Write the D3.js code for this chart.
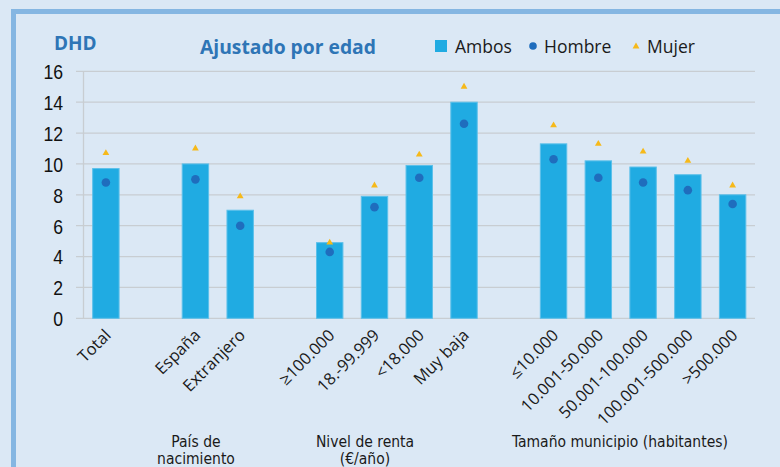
<!DOCTYPE html>
<html>
<head>
<meta charset="utf-8">
<script src="https://cdn.jsdelivr.net/npm/d3@7"></script>
<style>
  html, body { margin: 0; padding: 0; background: #dbe8f5; }
  svg { display: block; }
</style>
</head>
<body>
<svg id="chart" width="780" height="467"></svg>
<script>
// ---- Data ----
const categories = ["Total", "", "España", "Extranjero", "", "≥100.000", "18.-99.999", "<18.000", "Muy baja", "", "≤10.000", "10.001-50.000", "50.001-100.000", "100.001-500.000", ">500.000"];
const ambos  = [9.7, null, 10.0, 7.0, null, 4.9, 7.9, 9.9, 14.0, null, 11.3, 10.2, 9.8, 9.3, 8.0];
const hombre = [8.8, null, 9.0, 6.0, null, 4.3, 7.2, 9.1, 12.6, null, 10.3, 9.1, 8.8, 8.3, 7.4];
const mujer  = [10.7, null, 11.0, 7.9, null, 4.9, 8.6, 10.6, 15.0, null, 12.5, 11.3, 10.8, 10.2, 8.6];
const yTicks = [0, 2, 4, 6, 8, 10, 12, 14, 16];
const seriesNames = ["Ambos", "Hombre", "Mujer"];
const groupLabels = [
  { lines: ["País de", "nacimiento"], x: 196 },
  { lines: ["Nivel de renta", "(€/año)"], x: 365 },
  { lines: ["Tamaño municipio (habitantes)"], x: 620 }
];

// ---- Setup ----
const svg = d3.select("#chart");
const W = 780, H = 467;
const C = {
  bg: "#dbe8f5", border: "#85b6e2", bar: "#20abe2", barStroke: "#5cc0ea",
  dot: "#1f6dbd", tri: "#f6b91a", grid: "#c8cdd2", title: "#2e75b6", text: "#1a1a1a"
};

svg.append("rect").attr("x", 0).attr("y", 0).attr("width", W).attr("height", H).attr("fill", C.bg);
// border (top & left visible)
svg.append("rect").attr("x", 11).attr("y", 9).attr("width", W - 11).attr("height", 5).attr("fill", C.border);
svg.append("rect").attr("x", 11).attr("y", 9).attr("width", 5).attr("height", H - 9).attr("fill", C.border);

const plot = { left: 83.5, right: 755, top: 71.3, bottom: 318.3 };
const idx = categories.map((d, i) => i);
const x = d3.scaleBand().domain(idx).range([plot.left, plot.right]).paddingInner(0.41).paddingOuter(0.205);
const y = d3.scaleLinear().domain([0, 16]).range([plot.bottom, plot.top]);

// gridlines
svg.append("g").selectAll("line").data(yTicks).join("line")
  .attr("x1", 76).attr("x2", plot.right)
  .attr("y1", d => y(d)).attr("y2", d => y(d))
  .attr("stroke", C.grid).attr("stroke-width", 1.3);

// y axis line
svg.append("line").attr("x1", plot.left).attr("x2", plot.left)
  .attr("y1", y(16)).attr("y2", y(0)).attr("stroke", C.grid).attr("stroke-width", 1.3);

// y tick labels
const yAxis = d3.axisLeft(y).tickValues(yTicks).tickSize(0).tickPadding(0).tickFormat(d3.format("d"));
const gy = svg.append("g").attr("transform", `translate(63,0)`).call(yAxis);
gy.select(".domain").remove();
gy.selectAll("text")
  .attr("font-family", "'Liberation Sans', Arial, sans-serif")
  .attr("font-size", 20.5).attr("fill", "#111").attr("dy", "0.36em")
  .attr("transform", "scale(0.86,1)");

// bars
const bi = idx.filter(i => ambos[i] != null);
svg.append("g").selectAll("rect").data(bi).join("rect")
  .attr("x", i => x(i)).attr("width", x.bandwidth())
  .attr("y", i => y(ambos[i])).attr("height", i => y(0) - y(ambos[i]))
  .attr("fill", C.bar).attr("stroke", C.barStroke).attr("stroke-width", 1);

// hombre dots
svg.append("g").selectAll("circle").data(bi).join("circle")
  .attr("cx", i => x(i) + x.bandwidth() / 2).attr("cy", i => y(hombre[i]))
  .attr("r", 4.3).attr("fill", C.dot);

// mujer triangles
const tri = d3.symbol().type(d3.symbolTriangle).size(20);
svg.append("g").selectAll("path").data(bi).join("path")
  .attr("d", tri)
  .attr("transform", i => `translate(${x(i) + x.bandwidth() / 2},${y(mujer[i])})`)
  .attr("fill", C.tri);

// x labels
svg.append("g").selectAll("text").data(bi).join("text")
  .attr("transform", i => `translate(${x(i) + x.bandwidth() / 2 + 6},${plot.bottom + 18}) rotate(-45)`)
  .attr("text-anchor", "end")
  .attr("font-family", "'Open Sans', 'Noto Sans', sans-serif")
  .attr("font-size", 16.5).attr("fill", C.text)
  .text(i => categories[i]);

// group labels
const gl = svg.append("g").selectAll("text").data(groupLabels).join("text")
  .attr("x", d => d.x).attr("y", 446.5)
  .attr("text-anchor", "middle")
  .attr("font-family", "'DejaVu Sans Condensed', 'DejaVu Sans', sans-serif")
  .attr("font-size", 15.5).attr("fill", C.text);
gl.selectAll("tspan").data(d => d.lines.map(l => ({ l, x: d.x }))).join("tspan")
  .attr("x", d => d.x).attr("dy", (d, i) => i === 0 ? 0 : 17).text(d => d.l);

// titles
svg.append("text").attr("x", 54).attr("y", 50)
  .attr("font-family", "'Open Sans', sans-serif").attr("font-weight", 700)
  .attr("font-size", 19).attr("fill", C.title).text("DHD");
svg.append("text").attr("x", 200).attr("y", 54)
  .attr("font-family", "'Open Sans', sans-serif").attr("font-weight", 700)
  .attr("font-size", 19.3).attr("fill", C.title).text("Ajustado por edad");

// legend
const lg = svg.append("g").attr("font-family", "'Open Sans', sans-serif").attr("font-size", 17.5).attr("fill", C.text);
const legendItems = [
  { name: seriesNames[0], sx: 441, tx: 455 },
  { name: seriesNames[1], sx: 533, tx: 544 },
  { name: seriesNames[2], sx: 636, tx: 647 }
];
lg.append("rect").attr("x", legendItems[0].sx - 6).attr("y", 40).attr("width", 12).attr("height", 12).attr("fill", C.bar);
lg.append("circle").attr("cx", legendItems[1].sx).attr("cy", 46).attr("r", 3.8).attr("fill", C.dot);
lg.append("path").attr("d", tri).attr("transform", `translate(${legendItems[2].sx},46.5)`).attr("fill", C.tri);
lg.selectAll("text").data(legendItems).join("text")
  .attr("x", d => d.tx).attr("y", 52.5).text(d => d.name);
</script>
</body>
</html>
